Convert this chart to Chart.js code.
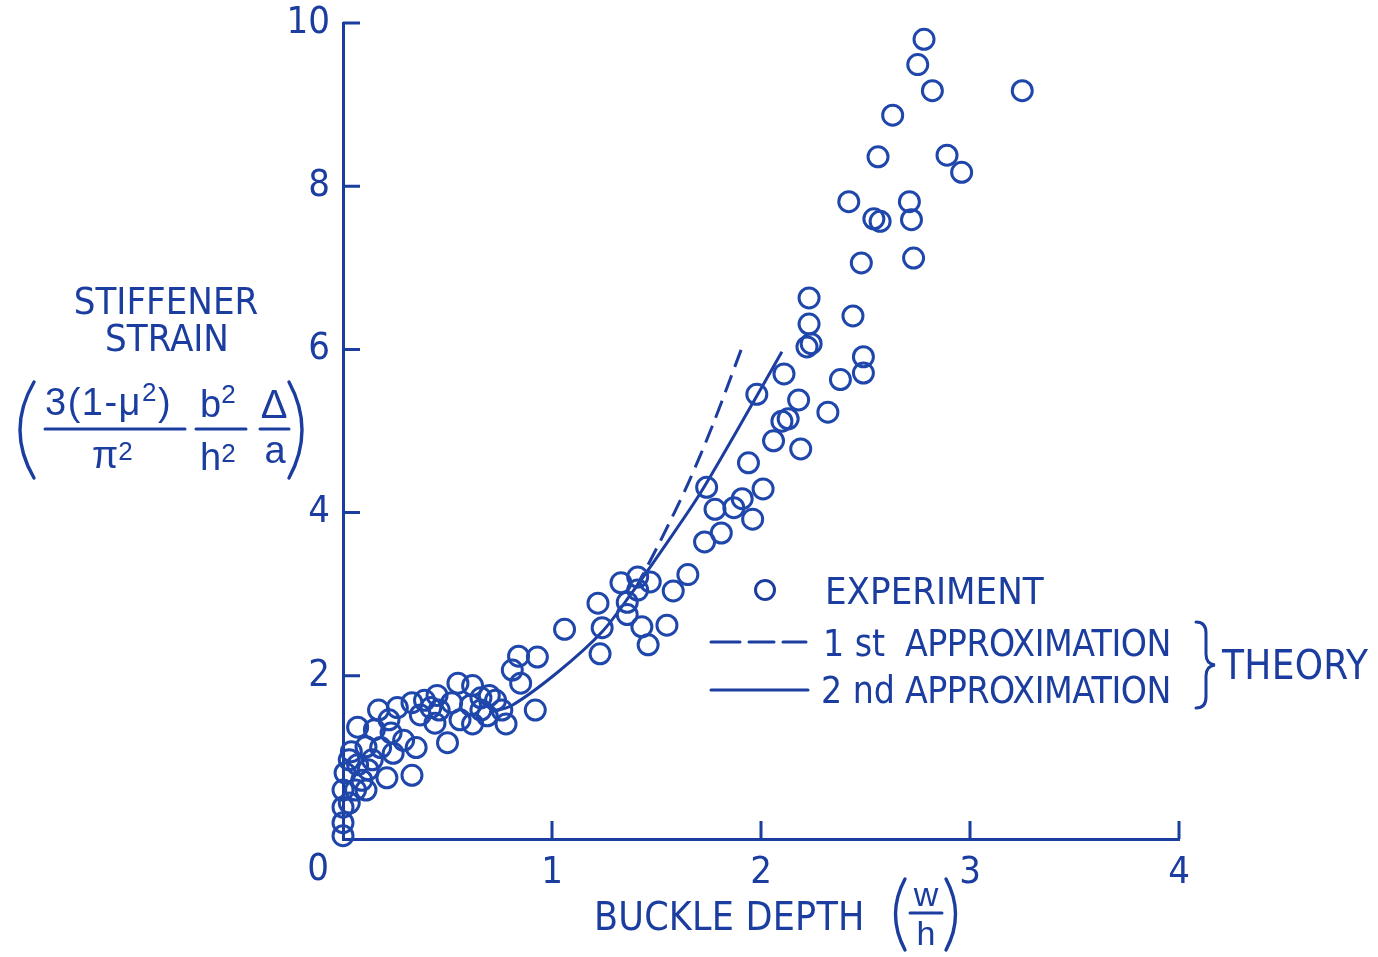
<!DOCTYPE html>
<html>
<head>
<meta charset="utf-8">
<script src="https://cdn.jsdelivr.net/npm/chart.js@4.4.1/dist/chart.umd.min.js"></script>
<style>
  body { margin: 0; background: #fff; }
  #wrap { position: relative; width: 1378px; height: 957px; overflow: hidden; }
  #chart { position: absolute; left: 0; top: 0; }
  .t { position: absolute; color: #1b3d9f; font-family: "Liberation Sans Narrow", "DejaVu Sans Condensed", "Liberation Sans", sans-serif;
       font-size: 38px; line-height: 1; white-space: nowrap; }
  .f { font-family: "Liberation Sans", "DejaVu Sans", sans-serif; }
  .c { transform: translate(-50%, -50%); }
  .l { transform: translateY(-50%); }
  .t sup { font-size: 26px; line-height: 0; vertical-align: 0.55em; }
  .lg { font-size: 37px; }
  svg { position: absolute; left: 0; top: 0; }
</style>
</head>
<body>
<div id="wrap">
  <canvas id="chart" width="1378" height="957"></canvas>

  <svg width="1378" height="957" fill="none" stroke="#1b3d9f" stroke-width="3" stroke-linecap="round">
    <!-- y label delimiters and fraction bars -->
    <path d="M34 382 Q6 430 34 478" stroke-width="3.4"/>
    <path d="M289 382 Q315 430 289 478" stroke-width="3.4"/>
    <line x1="45" y1="429" x2="185" y2="429"/>
    <line x1="196" y1="429" x2="246" y2="429"/>
    <line x1="260" y1="429" x2="289" y2="429"/>
    <!-- x label (w/h) -->
    <path d="M905 879 Q886 914 905 950" stroke-width="3.4"/>
    <path d="M946 879 Q965 914 946 950" stroke-width="3.4"/>
    <line x1="910" y1="913" x2="942" y2="913"/>
    <!-- legend samples -->
    <circle cx="765" cy="590" r="9.5" stroke-width="3"/>
    <line x1="711" y1="642" x2="740" y2="642"/>
    <line x1="749" y1="642" x2="774" y2="642"/>
    <line x1="783" y1="642" x2="806" y2="642"/>
    <line x1="711" y1="690" x2="808" y2="690"/>
    <!-- brace -->
    <path d="M1196 622 Q1206 622 1206 633 L1206 654 Q1206 664 1215 665 Q1206 666 1206 676 L1206 697 Q1206 708 1196 708"/>
  </svg>

  <div class="t c" style="left:166px;top:301px">STIFFENER</div>
  <div class="t c" style="left:167px;top:338px">STRAIN</div>

  <div class="t f l" style="left:45px;top:402px;letter-spacing:1.5px">3(1-μ<sup>2</sup>)</div>
  <div class="t f l" style="left:92px;top:455px">π<sup style="vertical-align:0.3em">2</sup></div>
  <div class="t f l" style="left:200px;top:404px">b<sup>2</sup></div>
  <div class="t f l" style="left:200px;top:457px">h<sup style="vertical-align:0.3em">2</sup></div>
  <div class="t f c" style="left:274px;top:404px;font-size:40px">Δ</div>
  <div class="t f c" style="left:275px;top:450px;font-size:38px">a</div>

  <div class="t c" style="left:318px;top:867px">0</div>

  <div class="t l" style="left:594px;top:916px;font-size:39px;letter-spacing:0.2px">BUCKLE DEPTH</div>
  <div class="t f c" style="left:926px;top:894px;font-size:34px">w</div>
  <div class="t f c" style="left:926px;top:933px;font-size:34px">h</div>

  <div class="t l" style="left:825px;top:591px">EXPERIMENT</div>
  <div class="t l lg" style="left:823px;top:643px">1 st</div>
  <div class="t l lg" style="left:905px;top:643px;letter-spacing:-0.5px">APPROXIMATION</div>
  <div class="t l lg" style="left:821px;top:690px">2 nd</div>
  <div class="t l lg" style="left:905px;top:690px;letter-spacing:-0.5px">APPROXIMATION</div>
  <div class="t l" style="left:1222px;top:665px;font-size:40px;letter-spacing:0.3px">THEORY</div>
</div>

<script>
const INK = '#1b3d9f';
const DOT = '#1f47ab';

// tick values
const xTicks = [0, 1, 2, 3, 4];
const yTicks = [0, 2, 4, 6, 8, 10];

// experiment points (buckle depth w/h, stiffener strain)
const expX = [2.78, 2.75, 2.82, 3.25, 2.63, 2.56, 2.89, 2.96, 2.42, 2.71, 2.54, 2.57, 2.72, 2.48, 2.73,
  2.23, 2.44, 2.23, 2.22, 2.24, 2.49, 2.49, 2.38, 2.11, 1.98, 2.18, 2.32, 2.10, 2.13, 2.06, 2.19, 1.94, 2.01, 1.74, 1.78,
  1.91, 1.87, 1.96, 1.81, 1.73,
  1.65, 1.58, 1.33, 1.41, 1.47, 1.41, 1.22, 1.36, 1.36, 1.43, 1.55, 1.24, 1.06, 1.46, 1.23,
  0.93, 0.84, 0.81, 0.85, 0.92,
  0.55, 0.62, 0.66, 0.73, 0.76, 0.78, 0.69, 0.62, 0.56, 0.52, 0.45, 0.42, 0.44, 0.50, 0.35, 0.29, 0.39, 0.33, 0.26, 0.17,
  0.07, 0.15, 0.23, 0.24, 0.04, 0.11, 0.07, 0.12, 0.21, 0.33, 0.01, 0.00, 0.06, 0.00, 0.00, 0.00, 0.09, 0.03,
  0.03, 0.11, 0.14, 0.18, 0.22, 0.37, 0.46, 0.61, 0.70, 0.66];
const expY = [9.80, 9.49, 9.17, 9.17, 8.87, 8.36, 8.38, 8.17, 7.81, 7.81, 7.60, 7.57, 7.59, 7.06, 7.12,
  6.63, 6.41, 6.31, 6.03, 6.07, 5.91, 5.71, 5.63, 5.70, 5.45, 5.38, 5.23, 5.12, 5.15, 4.88, 4.78, 4.61, 4.29, 4.31, 4.04,
  4.17, 4.06, 3.92, 3.75, 3.64,
  3.24, 3.04, 3.14, 3.21, 3.15, 3.05, 2.89, 2.90, 2.75, 2.60, 2.62, 2.59, 2.57, 2.38, 2.27,
  2.23, 2.24, 2.07, 1.91, 1.58,
  1.91, 1.88, 1.73, 1.70, 1.58, 1.41, 1.51, 1.41, 1.46, 1.67, 1.76, 1.61, 1.42, 1.18, 1.12, 1.21, 1.70, 1.67, 1.61, 1.58,
  1.37, 1.34, 1.30, 1.05, 1.07, 1.13, 0.91, 0.85, 0.75, 0.78, 0.81, 0.60, 0.60, 0.39, 0.20, 0.04, 0.72, 0.44,
  0.97, 0.60, 0.97, 1.12, 1.46, 1.52, 1.58, 1.64, 1.76, 1.58];

// theory, 1st approximation (dashed)
const approx1X = [1.40, 1.52, 1.65, 1.77, 1.91];
const approx1Y = [3.07, 3.66, 4.35, 5.08, 6.03];

// theory, 2nd approximation (solid)
const approx2X = [0.70, 0.81, 1.03, 1.24, 1.38, 1.55, 1.71, 1.96, 2.10];
const approx2Y = [1.55, 1.64, 2.05, 2.54, 3.01, 3.63, 4.24, 5.34, 5.97];

const pts = (xs, ys) => xs.map((x, i) => ({ x: x, y: ys[i] }));

Chart.defaults.font.family = '"Liberation Sans Narrow", "DejaVu Sans Condensed", "Liberation Sans", sans-serif';
Chart.defaults.color = INK;

// tick marks point into the plot
const inwardTicks = {
  id: 'inwardTicks',
  beforeDatasetsDraw(chart) {
    const { ctx, chartArea, scales } = chart;
    ctx.save();
    ctx.strokeStyle = INK;
    ctx.lineWidth = 3;
    ctx.beginPath();
    yTicks.forEach(v => {
      if (v === 0) return;
      const py = scales.y.getPixelForValue(v);
      ctx.moveTo(chartArea.left, py);
      ctx.lineTo(chartArea.left + 17, py);
    });
    xTicks.forEach(v => {
      if (v === 0) return;
      const px = scales.x.getPixelForValue(v);
      ctx.moveTo(px, chartArea.bottom);
      ctx.lineTo(px, chartArea.bottom - 18);
    });
    ctx.stroke();
    ctx.restore();
  }
};

const noPad = s => { s.paddingTop = 0; s.paddingBottom = 0; s.paddingLeft = 0; s.paddingRight = 0; };

new Chart(document.getElementById('chart'), {
  type: 'scatter',
  data: {
    datasets: [
      {
        label: 'EXPERIMENT',
        data: pts(expX, expY),
        pointStyle: 'circle',
        pointRadius: 10,
        borderWidth: 3,
        borderColor: DOT,
        backgroundColor: 'rgba(0,0,0,0)',
        clip: false
      },
      {
        label: '1st APPROXIMATION',
        type: 'line',
        data: pts(approx1X, approx1Y),
        borderColor: INK,
        borderWidth: 3,
        borderDash: [18, 9],
        pointRadius: 0,
        tension: 0.3,
        fill: false
      },
      {
        label: '2nd APPROXIMATION',
        type: 'line',
        data: pts(approx2X, approx2Y),
        borderColor: INK,
        borderWidth: 3,
        pointRadius: 0,
        tension: 0.3,
        fill: false
      }
    ]
  },
  options: {
    responsive: false,
    animation: false,
    devicePixelRatio: 1,
    layout: { padding: { left: 0, right: 199, top: 23, bottom: 0 } },
    plugins: { legend: { display: false }, tooltip: { enabled: false } },
    scales: {
      x: {
        type: 'linear', min: 0, max: 4,
        grid: { display: false, drawTicks: false },
        border: { display: true, color: INK, width: 3 },
        ticks: {
          stepSize: 1, padding: 11, color: INK, font: { size: 38 },
          callback: v => (v === 0 ? '' : v)
        },
        afterFit: s => { s.height = 118; noPad(s); }
      },
      y: {
        type: 'linear', min: 0, max: 10,
        grid: { display: false, drawTicks: false },
        border: { display: true, color: INK, width: 3 },
        ticks: {
          stepSize: 2, padding: 13, color: INK, font: { size: 38 },
          callback: v => (v === 0 ? '' : v)
        },
        afterFit: s => { s.width = 343; noPad(s); }
      }
    }
  },
  plugins: [inwardTicks]
});
</script>
</body>
</html>
